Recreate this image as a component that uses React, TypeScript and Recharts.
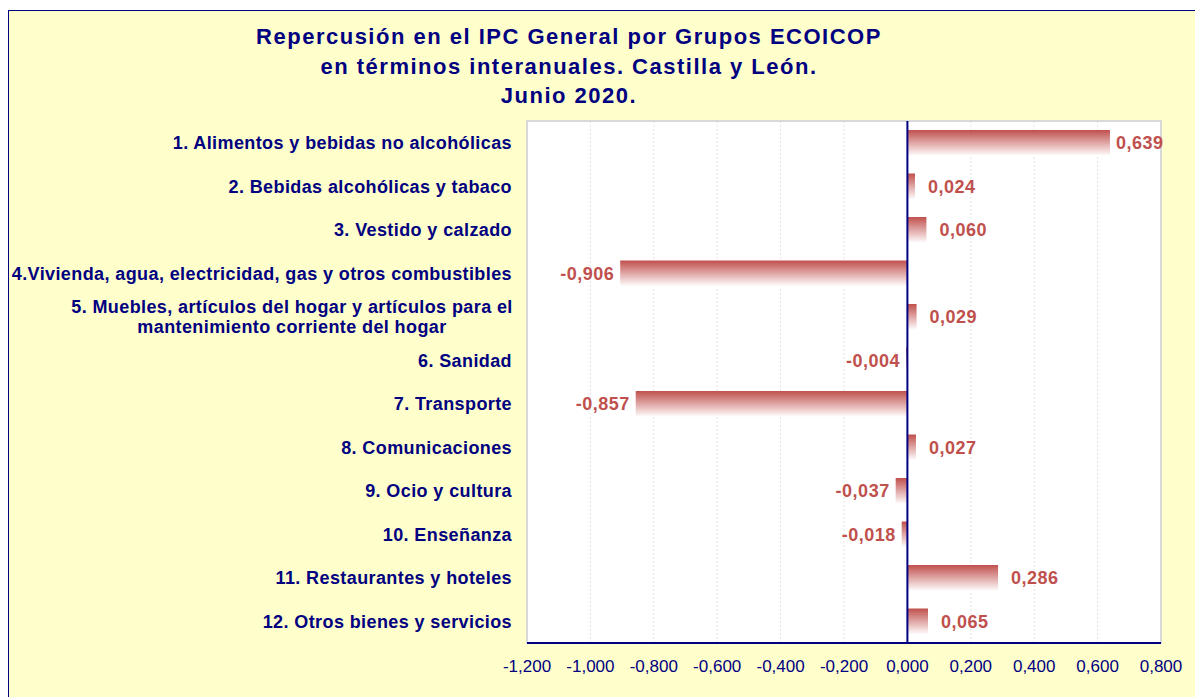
import React from "react";
import {
  BarChart,
  Bar,
  XAxis,
  YAxis,
  CartesianGrid,
  ReferenceLine,
  ReferenceArea,
  LabelList,
} from "recharts";

const categories = [
  "1. Alimentos y bebidas no alcohólicas",
  "2. Bebidas alcohólicas y tabaco",
  "3. Vestido y calzado",
  "4.Vivienda, agua, electricidad, gas y otros combustibles",
  "5. Muebles, artículos del hogar y artículos para el\nmantenimiento corriente del hogar",
  "6. Sanidad",
  "7. Transporte",
  "8. Comunicaciones",
  "9. Ocio y cultura",
  "10. Enseñanza",
  "11. Restaurantes y hoteles",
  "12. Otros bienes y servicios",
];

const values = [0.639, 0.024, 0.06, -0.906, 0.029, -0.004, -0.857, 0.027, -0.037, -0.018, 0.286, 0.065];

const xTicks = [-1.2, -1.0, -0.8, -0.6, -0.4, -0.2, 0, 0.2, 0.4, 0.6, 0.8];

const titleLines = [
  "Repercusión en el IPC General por Grupos ECOICOP",
  "en términos interanuales. Castilla y León.",
  "Junio 2020.",
];

const data = categories.map((c, i) => ({ name: c, value: values[i] }));

const NAVY = "#000080";
const RED = "#C0504D";
const FONT = "'Liberation Sans', Arial, sans-serif";
const NARROW = "'Liberation Sans Narrow', 'Arial Narrow', 'Liberation Sans', sans-serif";

const CHART_W = 1195;
const MARGIN_RIGHT = 34;
const PLOT_RIGHT = CHART_W - MARGIN_RIGHT;

const fmt = (v: number) => v.toFixed(3).replace(".", ",");

const YTick = (props: any) => {
  const { x, y, payload } = props;
  const lines = String(payload.value).split("\n");
  const common = {
    fill: NAVY,
    fontSize: 18,
    fontWeight: "bold" as const,
    fontFamily: FONT,
    letterSpacing: 0.4,
  };
  if (lines.length === 1) {
    return (
      <text x={x - 7} y={y} dy="0.35em" textAnchor="end" {...common}>
        {lines[0]}
      </text>
    );
  }
  const cx = x - 7 - 220;
  return (
    <text textAnchor="middle" {...common}>
      {lines.map((l, i) => (
        <tspan key={i} x={cx} y={y + (i - (lines.length - 1) / 2) * 20} dy="0.35em">
          {l}
        </tspan>
      ))}
    </text>
  );
};

const XTick = (props: any) => {
  const { x, y, payload } = props;
  return (
    <text x={x} y={y + 15} textAnchor="middle" fill={NAVY} fontSize={17} fontFamily={NARROW} dy="0.35em">
      {fmt(payload.value)}
    </text>
  );
};

const ValueLabel = (props: any) => {
  const { x, y, width, height, value } = props;
  const left = Math.min(x, x + width);
  const right = Math.max(x, x + width);
  const cy = y + height / 2;
  const pos = value >= 0;
  const txt = fmt(value);
  const estW = txt.length * 9.6;
  let lx = pos ? right + 13 : left - 6;
  if (pos && lx + estW > PLOT_RIGHT + 2) lx = Math.max(right + 6, PLOT_RIGHT + 2 - estW);
  return (
    <text
      x={lx}
      y={cy}
      dy="0.35em"
      textAnchor={pos ? "start" : "end"}
      fill={RED}
      fontSize={18}
      fontWeight="bold"
      fontFamily={FONT}
      letterSpacing={0.5}
    >
      {txt}
    </text>
  );
};

export default function App() {
  return (
    <div style={{ position: "absolute", left: 0, top: 0, width: 1195, height: 697, overflow: "hidden", background: "#fff" }}>
      <div
        style={{
          position: "absolute",
          left: 8,
          top: 10,
          width: 1220,
          height: 720,
          border: `1px solid ${NAVY}`,
          background: "#FFFFCC",
        }}
      />
      {titleLines.map((t, i) => (
        <div
          key={i}
          style={{
            position: "absolute",
            left: 169,
            width: 800,
            top: [37, 67, 96][i] - 14,
            height: 28,
            lineHeight: "28px",
            textAlign: "center",
            color: NAVY,
            fontFamily: FONT,
            fontWeight: "bold",
            fontSize: 22,
            letterSpacing: 1.5,
            whiteSpace: "nowrap",
          }}
        >
          {t}
        </div>
      ))}
      <div style={{ position: "absolute", left: 0, top: 0 }}>
        <BarChart
          width={CHART_W}
          height={697}
          data={data}
          layout="vertical"
          margin={{ top: 121, right: MARGIN_RIGHT, bottom: 24, left: 0 }}
          barSize={26}
        >
          <defs>
            <linearGradient id="barGrad" x1="0" y1="0" x2="0" y2="1">
              <stop offset="0%" stopColor={RED} />
              <stop offset="100%" stopColor="#FFFFFF" />
            </linearGradient>
          </defs>
          <CartesianGrid horizontal={false} stroke="#E4E4E4" strokeDasharray="2 2" fill="#FFFFFF" />
          <ReferenceArea x1={-1.2} x2={0.8} fill="none" stroke="#D9D9D9" strokeWidth={2} ifOverflow="visible" />
          <XAxis
            type="number"
            domain={[-1.2, 0.8]}
            ticks={xTicks}
            allowDataOverflow
            axisLine={{ stroke: NAVY, strokeWidth: 2 }}
            tickLine={false}
            tick={<XTick />}
            height={30}
            interval={0}
          />
          <YAxis
            type="category"
            dataKey="name"
            width={527}
            axisLine={false}
            tickLine={false}
            tick={<YTick />}
            interval={0}
          />
          <Bar dataKey="value" fill="url(#barGrad)" isAnimationActive={false}>
            <LabelList dataKey="value" content={<ValueLabel />} />
          </Bar>
          <ReferenceLine x={0} stroke={NAVY} strokeWidth={2} ifOverflow="visible" />
        </BarChart>
      </div>
    </div>
  );
}
